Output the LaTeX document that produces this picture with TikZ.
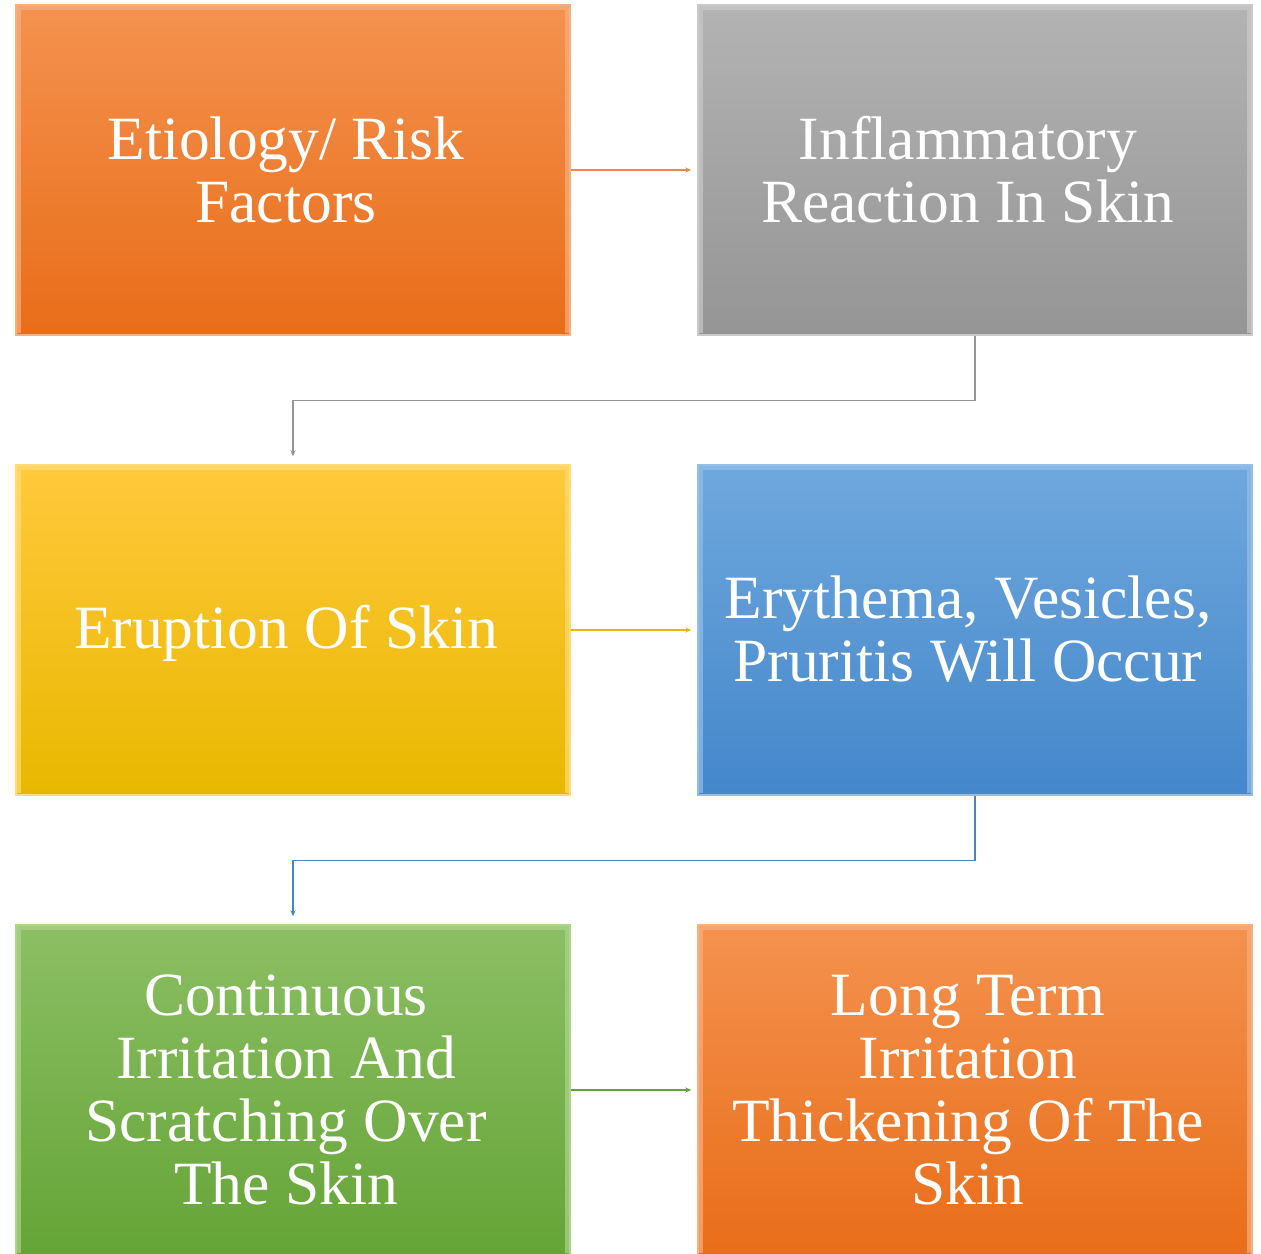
\documentclass[tikz,border=0pt]{standalone}
\usepackage{fontspec}
\setmainfont{Liberation Serif}
\usetikzlibrary{arrows.meta}
\definecolor{orT}{HTML}{F4924F}
\definecolor{orB}{HTML}{E86D19}
\definecolor{grT}{HTML}{B3B3B3}
\definecolor{grB}{HTML}{959595}
\definecolor{yeT}{HTML}{FFC93C}
\definecolor{yeB}{HTML}{E8B800}
\definecolor{blT}{HTML}{6FA8DD}
\definecolor{blB}{HTML}{4487CB}
\definecolor{gnT}{HTML}{8CBF64}
\definecolor{gnB}{HTML}{65A437}
\definecolor{orL}{HTML}{F7B080}
\definecolor{grL}{HTML}{CACACA}
\definecolor{yeL}{HTML}{FFDC78}
\definecolor{blL}{HTML}{94BFE8}
\definecolor{gnL}{HTML}{ADD58D}
\tikzset{
  x=1pt, y=-1pt,
  boxst/.style={minimum width=554pt, minimum height=330pt, inner sep=0pt},
  txtst/.style={text=white, align=center, inner sep=0pt,
    font=\fontsize{61.5}{63}\selectfont, xshift=-7pt, yshift=0pt},
  conn/.style={line width=1.3pt, -{Stealth[length=6pt,width=5pt]}},
}
\newcommand{\bevelbox}[7]{%
  % #1 name, #2 center, #3 top col, #4 bottom col, #5 light col, #6 text, #7 text yshift
  \node[boxst, top color=#3, bottom color=#4, draw=#5, line width=1.5pt] (#1) at #2 {};
  \draw[#5, line width=5pt, opacity=0.7]
    ([xshift=3pt,yshift=3pt]#1.south west) -- ([xshift=3pt,yshift=-3pt]#1.north west)
    -- ([xshift=-3pt,yshift=-3pt]#1.north east) -- ([xshift=-3pt,yshift=3pt]#1.south east);
  \node[txtst, yshift=#7] (#1t) at (#1.center) {#6};
}
\begin{document}
\begin{tikzpicture}
\useasboundingbox (0,0) rectangle (1261,1253);
\clip (0,0) rectangle (1261,1253);
\fill[white] (0,0) rectangle (1261,1253);
\bevelbox{b1}{(293,170)}{orT}{orB}{orL}{Etiology/ Risk\\Factors}{0pt}
\bevelbox{b2}{(975,170)}{grT}{grB}{grL}{Inflammatory\\Reaction In Skin}{0pt}
\bevelbox{b3}{(293,630)}{yeT}{yeB}{yeL}{Eruption Of Skin}{-3pt}
\bevelbox{b4}{(975,630)}{blT}{blB}{blL}{Erythema, Vesicles,\\Pruritis Will Occur}{1pt}
\bevelbox{b5}{(293,1090)}{gnT}{gnB}{gnL}{Continuous\\Irritation And\\Scratching Over\\The Skin}{0pt}
\bevelbox{b6}{(975,1090)}{orT}{orB}{orL}{Long Term\\Irritation\\Thickening Of The\\Skin}{0pt}
\draw[conn, draw=orB!80!white, shorten >=6pt] (b1.east) -- (b2.west);
\draw[conn, draw=grB, shorten >=8pt] (b2.south) -- ++(0,65) -| (b3.north);
\draw[conn, draw=yeB, shorten >=6pt] (b3.east) -- (b4.west);
\draw[conn, draw=blB, shorten >=8pt] (b4.south) -- ++(0,65) -| (b5.north);
\draw[conn, draw=gnB, shorten >=6pt] (b5.east) -- (b6.west);
\end{tikzpicture}
\end{document}
